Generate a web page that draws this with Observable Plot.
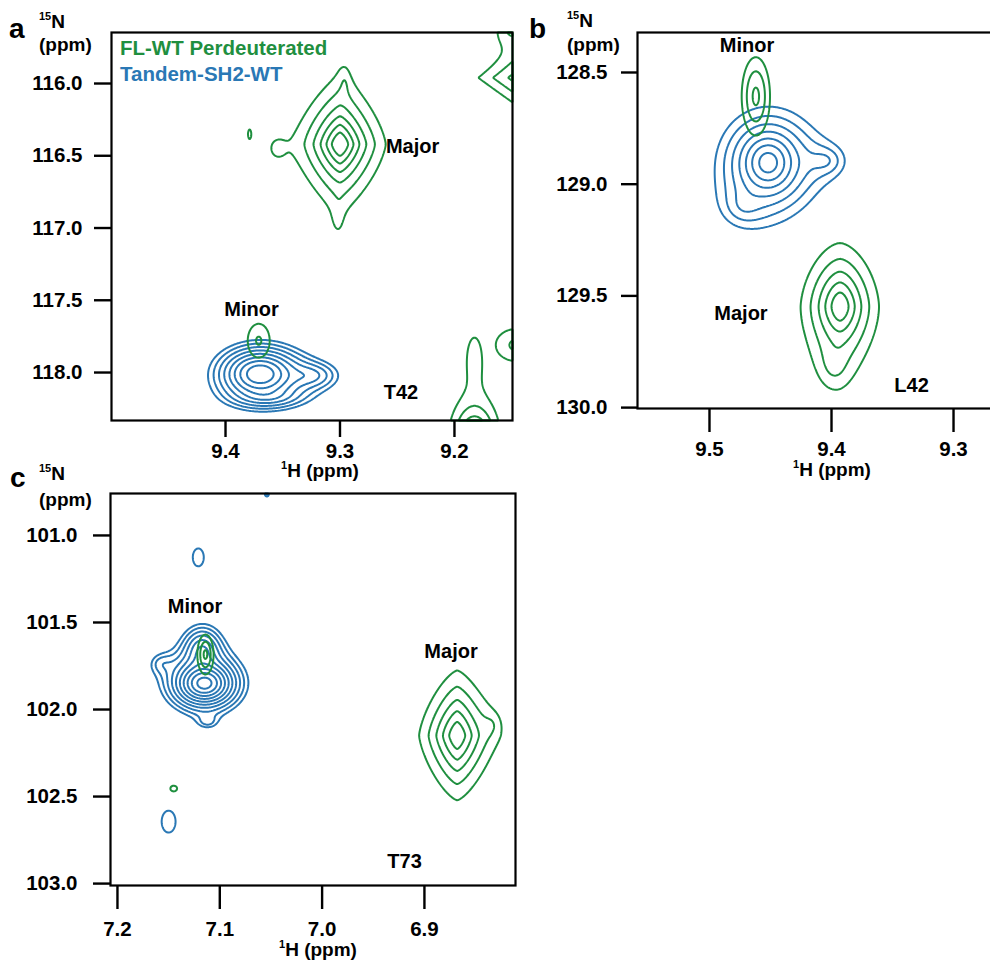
<!DOCTYPE html>
<html><head><meta charset="utf-8">
<script src="https://cdn.jsdelivr.net/npm/d3@7"></script>
<script src="https://cdn.jsdelivr.net/npm/@observablehq/plot@0.6"></script>
<style>
html,body{margin:0;padding:0;background:#fff;overflow:hidden;}
#page{position:relative;width:990px;height:961px;overflow:hidden;background:#fff;font-family:"Liberation Sans",Arial,sans-serif;}
.panel{position:absolute;}
#overlay{position:absolute;left:0;top:0;pointer-events:none;}
</style></head><body><div id="page"></div>
<script>
const GREEN = "#1f8f3f", BLUE = "#2a78b5";

// contour levels, in multiples of the lowest level, one set per spectrum
const levelsGreen = [1, 1.65, 2.72, 4.49, 7.41, 12.2, 20.2];
const levelsBlue = [1, 1.35, 1.82, 2.46, 3.32, 4.48, 6.05, 8.17, 11.0, 14.9, 20.1];

// peaks: c = cluster, h = 1H shift (ppm), n = 15N shift (ppm), amp = height (lowest levels),
// wh / wn = half widths (ppm), q = contour exponent (2 ellipse, 1 diamond), m = tail (1 Lorentzian)
const peaksAGreen = [
  {c: "major", h: 9.300, n: 116.42, amp: 19.5, wh: 0.0092, wn: 0.104, q: 1.4, m: 1},
  {c: "major", h: 9.355, n: 116.45, amp: 0.8, wh: 0.007, wn: 0.07, q: 2, m: 1},
  {c: "major", h: 9.379, n: 116.35, amp: 0.85, wh: 0.003, wn: 0.07, q: 2, m: 1},
  {c: "major", h: 9.296, n: 116.00, amp: 0.7, wh: 0.004, wn: 0.1, q: 2, m: 1},
  {c: "major", h: 9.302, n: 116.92, amp: 0.7, wh: 0.004, wn: 0.1, q: 2, m: 1},
  {c: "minor", h: 9.371, n: 117.78, amp: 1.72, wh: 0.0113, wn: 0.138, q: 2, m: 1},
  {c: "top", h: 9.142, n: 115.96, amp: 3.2, wh: 0.0236, wn: 0.138, q: 1, m: 1},
  {c: "top", h: 9.150, n: 115.62, amp: 1.5, wh: 0.012, wn: 0.1, q: 2, m: 1},
  {c: "bottom", h: 9.1825, n: 118.45, amp: 9, wh: 0.0075, wn: 0.09, q: 2, m: 1},
  {c: "bottom", h: 9.1825, n: 117.88, amp: 1.05, wh: 0.011, wn: 0.25, q: 2, m: 1},
  {c: "right", h: 9.146, n: 117.81, amp: 1.8, wh: 0.02, wn: 0.124, q: 2, m: 1}
];
const peaksABlue = [
  {c: "minor", h: 9.370, n: 118.01, amp: 10.5, wh: 0.021, wn: 0.11, q: 2, m: 2},
  {c: "minor", h: 9.325, n: 118.02, amp: 2.0, wh: 0.02, wn: 0.08, q: 2, m: 2},
  {c: "minor", h: 9.362, n: 118.17, amp: 1.5, wh: 0.025, wn: 0.06, q: 2, m: 2}
];
const peaksBGreen = [
  {c: "minor", h: 9.462, n: 128.607, amp: 3.0, wh: 0.0082, wn: 0.124, q: 2, m: 1},
  {c: "major", h: 9.393, n: 129.547, amp: 11, wh: 0.0098, wn: 0.088, q: 1.7, m: 1},
  {c: "major", h: 9.398, n: 129.80, amp: 1.2, wh: 0.01, wn: 0.09, q: 2, m: 1}
];
const peaksBBlue = [
  {c: "minor", h: 9.452, n: 128.903, amp: 7, wh: 0.0164, wn: 0.098, q: 2, m: 1},
  {c: "minor", h: 9.405, n: 128.895, amp: 1.2, wh: 0.014, wn: 0.06, q: 2, m: 1},
  {c: "minor", h: 9.472, n: 129.10, amp: 0.9, wh: 0.016, wn: 0.08, q: 2, m: 1}
];
const peaksCGreen = [
  {c: "minor", h: 7.114, n: 101.684, amp: 3.0, wh: 0.0056, wn: 0.081, q: 2, m: 1},
  {c: "major", h: 6.868, n: 102.149, amp: 10.5, wh: 0.012, wn: 0.12, q: 1.4, m: 1},
  {c: "major", h: 6.835, n: 102.09, amp: 0.8, wh: 0.008, wn: 0.06, q: 2, m: 1},
  {c: "spot", h: 7.145, n: 102.454, amp: 1.3, wh: 0.006, wn: 0.03, q: 2, m: 1}
];
const peaksCBlue = [
  {c: "minor", h: 7.115, n: 101.85, amp: 17, wh: 0.0168, wn: 0.075, q: 2, m: 2},
  {c: "minor", h: 7.117, n: 101.66, amp: 4, wh: 0.014, wn: 0.1, q: 2, m: 2},
  {c: "minor", h: 7.157, n: 101.736, amp: 1.0, wh: 0.012, wn: 0.06, q: 2, m: 2},
  {c: "minor", h: 7.112, n: 102.07, amp: 1.0, wh: 0.01, wn: 0.04, q: 2, m: 2},
  {c: "s1", h: 7.121, n: 101.126, amp: 1.3, wh: 0.0098, wn: 0.094, q: 2, m: 1},
  {c: "s2", h: 7.150, n: 102.644, amp: 1.3, wh: 0.0124, wn: 0.115, q: 2, m: 1},
  {c: "s3", h: 7.054, n: 100.765, amp: 1.4, wh: 0.003, wn: 0.018, q: 2, m: 1}
];

// axis ranges and ticks
const hDomainA = [9.4996, 9.1493], nDomainA = [118.332, 115.647];
const hDomainB = [9.559, 9.2615], nDomainB = [130.004, 128.321];
const hDomainC = [7.2068, 6.811], nDomainC = [103.011, 100.759];
const hTicksA = [9.4, 9.3, 9.2], nTicksA = [116.0, 116.5, 117.0, 117.5, 118.0];
const hTicksB = [9.5, 9.4, 9.3], nTicksB = [128.5, 129.0, 129.5, 130.0];
const hTicksC = [7.2, 7.1, 7.0, 6.9], nTicksC = [101.0, 101.5, 102.0, 102.5, 103.0];

// peak annotations
const labelsA = [
  {t: "Major", h: 9.2366, n: 116.436},
  {t: "Minor", h: 9.3773, n: 117.566},
  {t: "T42", h: 9.2467, n: 118.140}
];
const labelsB = [
  {t: "Minor", h: 9.4693, n: 128.379},
  {t: "Major", h: 9.4742, n: 129.579},
  {t: "L42", h: 9.3344, n: 129.901}
];
const labelsC = [
  {t: "Minor", h: 7.1242, n: 101.408},
  {t: "Major", h: 6.874, n: 101.667},
  {t: "T73", h: 6.9194, n: 102.871}
];
const legendItems = ["FL-WT Perdeuterated", "Tandem-SH2-WT"];

function field(peaks) {
  return (h, n) => {
    let s = 0;
    for (const p of peaks) {
      const u = Math.abs((h - p.h) / p.wh), v = Math.abs((n - p.n) / p.wn);
      const r2 = Math.pow(Math.pow(u, p.q) + Math.pow(v, p.q), 2 / p.q);
      s += p.amp / Math.pow(1 + r2 / p.m, p.m);
    }
    return s;
  };
}

const fmt = d3.format(".1f");

function contours(peaks, levels, color, bounds) {
  return Array.from(d3.group(peaks, d => d.c).values(), group =>
    Plot.contour({value: field(group), ...bounds, thresholds: levels, stroke: color, fill: "none", strokeWidth: 2, pixelSize: 1}));
}

function panel(o) {
  const bounds = {x1: o.hDomain[0], x2: o.hDomain[1], y1: o.nDomain[1], y2: o.nDomain[0]};
  return Plot.plot({
    width: o.w, height: o.ht,
    marginLeft: o.ml, marginRight: o.mr, marginTop: o.mt, marginBottom: o.mb,
    x: {domain: o.hDomain},
    y: {domain: o.nDomain},
    style: {fontFamily: '"Liberation Sans", Arial, sans-serif', fontSize: "20px", fontWeight: "bold", color: "#000", background: "transparent", maxWidth: "none", overflow: "visible"},
    marks: [
      ...contours(o.blue, levelsBlue, BLUE, bounds),
      ...contours(o.green, levelsGreen, GREEN, bounds),
      Plot.text(o.labels, {x: "h", y: "n", text: "t", fontSize: 20, fontWeight: "bold", fill: "#000"}),
      Plot.axisX({ticks: o.hTicks, tickFormat: () => "", tickSize: o.xts, strokeWidth: 2.4, label: null}),
      Plot.axisY({ticks: o.nTicks, tickFormat: () => "", tickSize: o.yts, strokeWidth: 2.4, label: null}),
      Plot.text(o.hTicks, {x: d => d, text: d => fmt(d), frameAnchor: "bottom", dy: o.xts + o.xtp, lineAnchor: "top", fontSize: 20.5, fontWeight: "bold", fill: "#000"}),
      Plot.text(o.nTicks, {y: d => d, text: d => fmt(d), frameAnchor: "left", dx: -(o.yts + o.ytp), textAnchor: "end", fontSize: 20.5, fontWeight: "bold", fill: "#000"}),
      Plot.frame({strokeWidth: 2.2, stroke: "#000"})
    ]
  });
}

const page = document.getElementById("page");
function place(el, left, top, w) {
  const d = document.createElement("div");
  d.className = "panel";
  d.style.left = left + "px"; d.style.top = top + "px"; d.style.width = w + "px";
  d.appendChild(el);
  page.appendChild(d);
}

place(panel({w: 520, ht: 480, ml: 111, mr: 8, mt: 32, mb: 60,
  hDomain: hDomainA, nDomain: nDomainA, hTicks: hTicksA, nTicks: nTicksA,
  xts: 17, xtp: 6, yts: 17, ytp: 12, green: peaksAGreen, blue: peaksABlue, labels: labelsA}), 0, 0, 520);
place(panel({w: 480, ht: 480, ml: 117, mr: 0, mt: 32, mb: 72,
  hDomain: hDomainB, nDomain: nDomainB, hTicks: hTicksB, nTicks: nTicksB,
  xts: 24, xtp: 9, yts: 16, ytp: 14, green: peaksBGreen, blue: peaksBBlue, labels: labelsB}), 520, 0, 480);
place(panel({w: 520, ht: 491, ml: 110, mr: 5, mt: 23, mb: 76,
  hDomain: hDomainC, nDomain: nDomainC, hTicks: hTicksC, nTicks: nTicksC,
  xts: 24, xtp: 12, yts: 17, ytp: 16, green: peaksCGreen, blue: peaksCBlue, labels: labelsC}), 0, 470, 520);

// overlay text: panel letters, axis titles, legend
const svg = d3.select(page).append("svg").attr("id", "overlay")
  .attr("width", 990).attr("height", 961)
  .style("font-family", '"Liberation Sans", Arial, sans-serif').style("font-weight", "bold");

const letters = [{t: "a", x: 9, y: 38}, {t: "b", x: 529, y: 38}, {t: "c", x: 10, y: 487}];
svg.selectAll("text.letter").data(letters).join("text").attr("class", "letter")
  .attr("x", d => d.x).attr("y", d => d.y).attr("font-size", 28).text(d => d.t);

const nTitles = [{x: 39, y: 28, y2: 51}, {x: 567, y: 27, y2: 51}, {x: 39, y: 480, y2: 506}];
nTitles.forEach(d => {
  const t = svg.append("text").attr("x", d.x).attr("y", d.y);
  t.append("tspan").attr("font-size", 11).attr("dy", -8).text("15");
  t.append("tspan").attr("font-size", 19).attr("dy", 8).text("N");
  svg.append("text").attr("x", d.x).attr("y", d.y2).attr("font-size", 19).text("(ppm)");
});

const hTitles = [{x: 320, y: 477}, {x: 832, y: 476}, {x: 318, y: 956}];
hTitles.forEach(d => {
  const t = svg.append("text").attr("x", d.x).attr("y", d.y).attr("text-anchor", "middle");
  t.append("tspan").attr("font-size", 11).attr("dy", -8).text("1");
  t.append("tspan").attr("font-size", 19).attr("dy", 8).text("H (ppm)");
});

svg.append("text").attr("x", 120).attr("y", 55).attr("font-size", 20.5).attr("fill", GREEN).text(legendItems[0]);
svg.append("text").attr("x", 120).attr("y", 81).attr("font-size", 20.5).attr("fill", BLUE).text(legendItems[1]);
</script></body></html>
